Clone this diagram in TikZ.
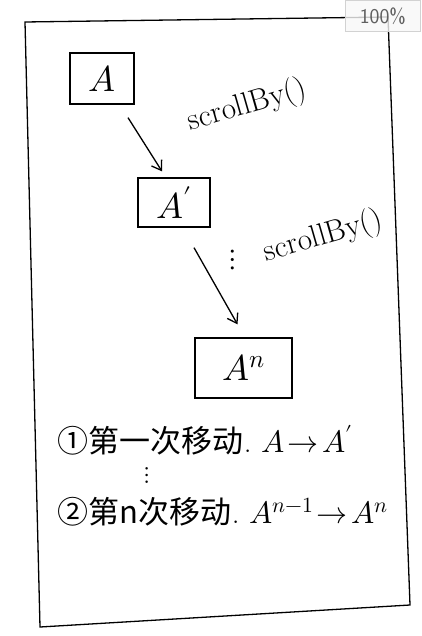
\documentclass[tikz,border=0pt]{standalone}
\usepackage{fontspec}
\usepackage{unicode-math}
\newfontfamily\cjk{Noto Sans CJK SC}
\usetikzlibrary{arrows.meta}

\begin{document}
\begin{tikzpicture}[>={Straight Barb[length=9pt,width=12pt]}, x=1pt, y=-1pt, line width=1.3pt,
	box/.style = {draw, inner sep=0pt, font=\fontsize{36}{36}\selectfont},
	call/.style = {font=\fontsize{31}{31}\selectfont, rotate=16},
	line/.style = {anchor=west, font=\fontsize{31}{32}\selectfont}]
	\useasboundingbox (0,0) rectangle (421,636);
%	%%%	Help Lines
%	\draw [thin, help lines, step=50] (0,0) grid (421,636);
	%%%	Cornice
	\draw (25,22) -- (388,17) -- (410,605) -- (40,627) -- cycle;
	\node[draw=gray!35, fill=gray!6, fill opacity=0.8, text opacity=1, text=gray!75!black,
		anchor=north east, minimum width=75, minimum height=31,
		font=\sffamily\fontsize{21}{21}\selectfont] (zoom) at (421,0) {100\%};
	%%%	Riquadri
	\node[box, minimum width=64, minimum height=51] (A) at (102,78.5) {$A$};
	\node[box, minimum width=72, minimum height=49] (A1) at (174,202.5) {$A'$};
	\node[box, minimum width=97, minimum height=60] (An) at (243.5,368) {$A^n$};
	%%%	Frecce
	\draw[->] ([xshift=26pt, yshift=-13pt]A.south) -- ([xshift=-12pt, yshift=6pt]A1.north);
	\draw[->] ([xshift=20pt, yshift=-20pt]A1.south) -- ([xshift=-6pt, yshift=13pt]An.north);
	\node[font=\fontsize{30}{30}\selectfont] (dots1) at (233,260) {$\vdots$};
	\node[call] (s1) at (247,106) {scrollBy()};
	\node[call] (s2) at (323,237) {scrollBy()};
	%%%	Testo
	\node[line] (t1) at (54,440) {{\cjk ①第一次移动}.~$A\!\to\! A'$};
	\node[font=\fontsize{24}{24}\selectfont] (dots2) at (147,475) {$\vdots$};
	\node[line] (t2) at (54,512) {{\cjk ②第n次移动}.~$A^{n-1}\!\to\! A^n$};
\end{tikzpicture}
\end{document}
